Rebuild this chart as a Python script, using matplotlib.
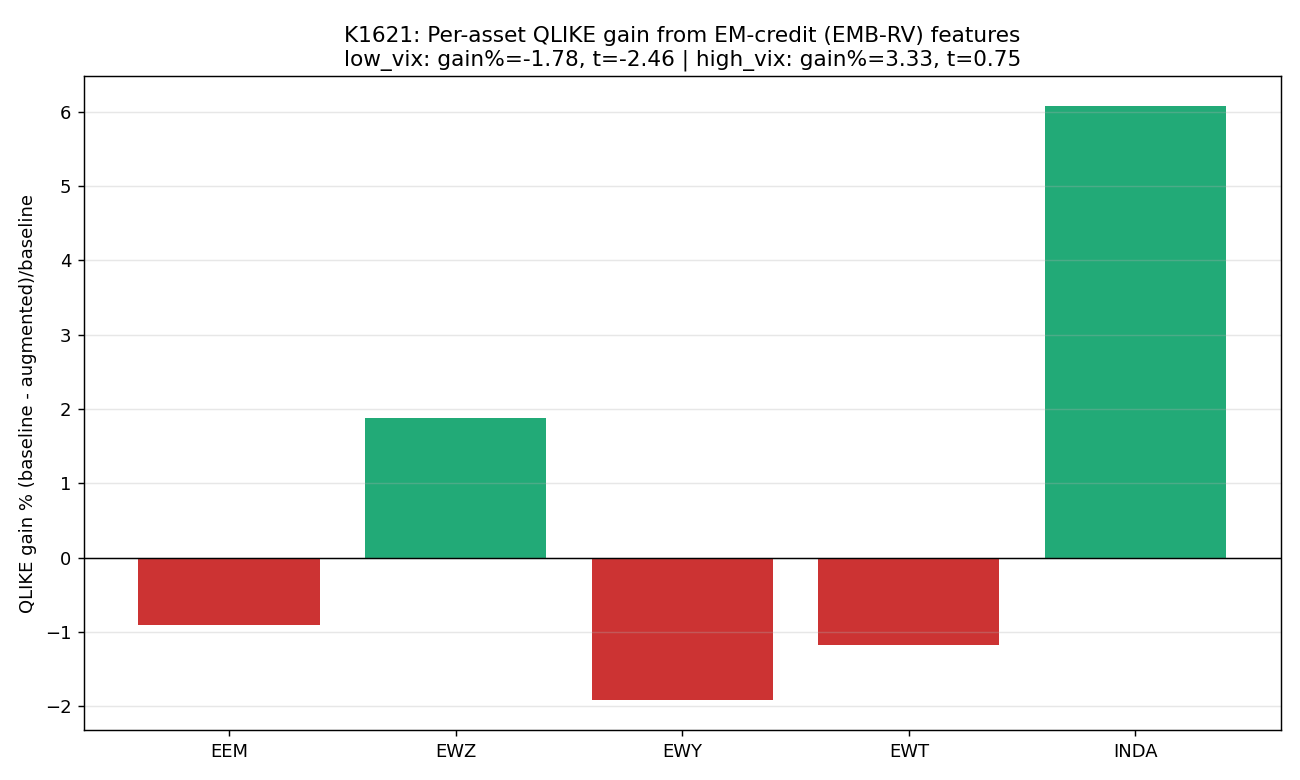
import numpy as np
import matplotlib
matplotlib.use("Agg")
import matplotlib.pyplot as plt

# per-asset QLIKE gain (%)
assets = ["EEM", "EWZ", "EWY", "EWT", "INDA"]
gains = [-0.90, 1.88, -1.92, -1.18, 6.08]

title = ("K1621: Per-asset QLIKE gain from EM-credit (EMB-RV) features\n"
         "low_vix: gain%=-1.78, t=-2.46 | high_vix: gain%=3.33, t=0.75")

fig, ax = plt.subplots(figsize=(10, 6), dpi=130)

colors = ["#22aa77" if g > 0 else "#cc3333" for g in gains]
ax.bar(assets, gains, color=colors)
ax.axhline(0, color="black", linewidth=0.8)

ax.set_ylabel("QLIKE gain % (baseline - augmented)/baseline")
ax.set_title(title)
ax.grid(axis="y", alpha=0.3)

plt.subplots_adjust(left=0.0646, right=0.985, top=0.9026, bottom=0.064)
fig.savefig("out.png")
